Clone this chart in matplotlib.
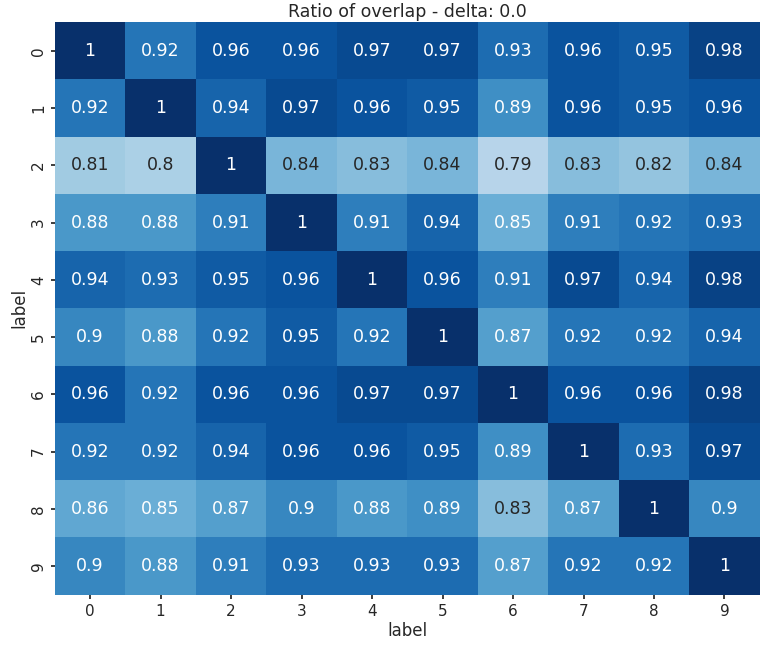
import numpy as np
import pandas as pd
import matplotlib
matplotlib.use("Agg")
import matplotlib.pyplot as plt
import seaborn as sns

labels = [str(i) for i in range(10)]

row_0 = [1, 0.92, 0.96, 0.96, 0.97, 0.97, 0.93, 0.96, 0.95, 0.98]
row_1 = [0.92, 1, 0.94, 0.97, 0.96, 0.95, 0.89, 0.96, 0.95, 0.96]
row_2 = [0.81, 0.8, 1, 0.84, 0.83, 0.84, 0.79, 0.83, 0.82, 0.84]
row_3 = [0.88, 0.88, 0.91, 1, 0.91, 0.94, 0.85, 0.91, 0.92, 0.93]
row_4 = [0.94, 0.93, 0.95, 0.96, 1, 0.96, 0.91, 0.97, 0.94, 0.98]
row_5 = [0.9, 0.88, 0.92, 0.95, 0.92, 1, 0.87, 0.92, 0.92, 0.94]
row_6 = [0.96, 0.92, 0.96, 0.96, 0.97, 0.97, 1, 0.96, 0.96, 0.98]
row_7 = [0.92, 0.92, 0.94, 0.96, 0.96, 0.95, 0.89, 1, 0.93, 0.97]
row_8 = [0.86, 0.85, 0.87, 0.9, 0.88, 0.89, 0.83, 0.87, 1, 0.9]
row_9 = [0.9, 0.88, 0.91, 0.93, 0.93, 0.93, 0.87, 0.92, 0.92, 1]

matrix = pd.DataFrame([row_0, row_1, row_2, row_3, row_4,
                       row_5, row_6, row_7, row_8, row_9],
                      index=labels, columns=labels)
matrix.index.name = "label"
matrix.columns.name = "label"

sns.set_theme(style="white")
plt.rcParams["font.family"] = ["DejaVu Sans"]

fig, ax = plt.subplots(figsize=(7.62, 6.5), dpi=100)
sns.heatmap(matrix, annot=True, cmap="Blues", vmin=0.7, vmax=1.0, cbar=False,
            annot_kws={"fontsize": 12.5}, ax=ax)
ax.set_title("Ratio of overlap - delta: 0.0", fontsize=12.5, pad=4)
ax.set_xlabel("label", fontsize=12, labelpad=2)
ax.set_ylabel("label", fontsize=12, labelpad=2)
ax.tick_params(axis="both", labelsize=11, length=3, left=True, bottom=True)
plt.setp(ax.get_yticklabels(), rotation=90, va="center")

fig.subplots_adjust(left=0.072, right=0.997, top=0.966, bottom=0.085)
fig.savefig("out.png", dpi=100)
plt.close(fig)
